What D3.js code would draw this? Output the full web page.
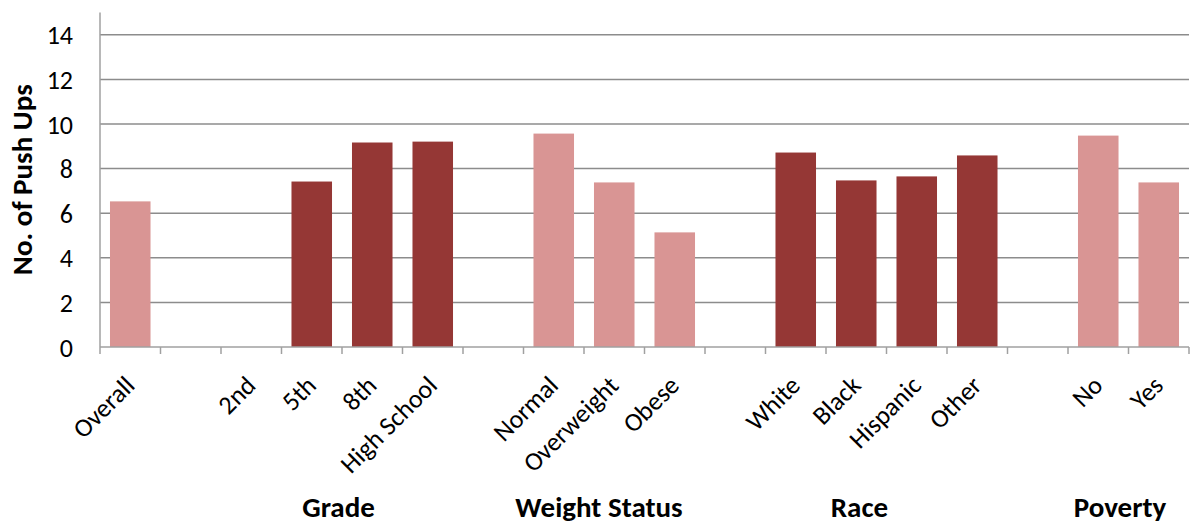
<!DOCTYPE html>
<html>
<head>
<meta charset="utf-8">
<script src="https://cdn.jsdelivr.net/npm/d3@7"></script>
<style>
  html, body { margin: 0; padding: 0; background: #fff; }
  svg { display: block; }
  text { font-family: Carlito, Calibri, "Open Sans", sans-serif; }
</style>
</head>
<body>
<svg id="chart" width="1193" height="525"></svg>
<script>
// ---- data ----
const categories = ["Overall", " 1", "2nd", "5th", "8th", "High School", " 2",
  "Normal", "Overweight", "Obese", " 3", "White", "Black", "Hispanic", "Other", " 4", "No", "Yes"];
const values = [6.53, null, null, 7.42, 9.17, 9.21, null,
  9.57, 7.38, 5.14, null, 8.72, 7.47, 7.65, 8.59, null, 9.48, 7.38];
const shades = ["light", null, null, "dark", "dark", "dark", null,
  "light", "light", "light", null, "dark", "dark", "dark", "dark", null, "light", "light"];
const groupNames = ["Grade", "Weight Status", "Race", "Poverty"];
const yTicks = [0, 2, 4, 6, 8, 10, 12, 14];
const yLabel = "No. of Push Ups";

// ---- layout ----
const svg = d3.select("#chart");
const L = 100, R = 1189, T = 12.5, B = 347;
const colors = { light: "#d99594", dark: "#953735" };

const x = d3.scaleBand().domain(categories).range([L, R]).paddingInner(0.33).paddingOuter(0.165);
const xb = d3.scaleBand().domain(categories).range([L, R]);
const y = d3.scaleLinear().domain([0, 15]).range([B, T]);

// gridlines
svg.append("g").selectAll("line").data(yTicks.filter(d => d > 0)).join("line")
  .attr("x1", L).attr("x2", R)
  .attr("y1", d => y(d)).attr("y2", d => y(d))
  .attr("stroke", "#8c8c8c").attr("stroke-width", 1.5);

// bars
const data = categories.map((c, i) => ({ c, v: values[i], s: shades[i] })).filter(d => d.v != null);
svg.append("g").selectAll("rect").data(data).join("rect")
  .attr("x", d => x(d.c)).attr("width", x.bandwidth())
  .attr("y", d => y(d.v)).attr("height", d => y(0) - y(d.v))
  .attr("fill", d => colors[d.s]);

// y axis
const yAxis = svg.append("g").attr("transform", `translate(${L},0)`)
  .call(d3.axisLeft(y).tickValues(yTicks).tickSize(0).tickPadding(27));
yAxis.select(".domain").attr("stroke", "#a0a0a0").attr("stroke-width", 1.5)
  .attr("d", `M0,${T}V${B}`);
yAxis.selectAll("text").attr("font-size", 26).attr("fill", "#000").attr("dy", "0.35em");

// x axis line and ticks
const xg = svg.append("g");
xg.append("line").attr("x1", L).attr("x2", R).attr("y1", B).attr("y2", B)
  .attr("stroke", "#a0a0a0").attr("stroke-width", 1.5);
const tickPos = categories.map(c => xb(c)).concat([R]);
xg.selectAll("line.tk").data(tickPos).join("line").attr("class", "tk")
  .attr("x1", d => d).attr("x2", d => d).attr("y1", B).attr("y2", B + 7)
  .attr("stroke", "#a0a0a0").attr("stroke-width", 1.5);

// x labels
xg.selectAll("text.cat").data(categories.filter(c => !/^ \d$/.test(c)))
  .join("text").attr("class", "cat")
  .attr("transform", c => `translate(${xb(c) + xb.bandwidth() / 2 + 6},${B + 40}) rotate(-45)`)
  .attr("text-anchor", "end").attr("font-size", 26).attr("fill", "#000")
  .text(c => c);

// group labels
const groupStart = xb("High School") - 64;
const groupStep = 260.5;
svg.selectAll("text.grp").data(groupNames).join("text").attr("class", "grp")
  .attr("x", (d, i) => groupStart + i * groupStep)
  .attr("y", 517).attr("text-anchor", "middle")
  .attr("font-size", 29).attr("font-weight", "bold").attr("fill", "#000")
  .text(d => d);

// y label
svg.append("text").attr("transform", `translate(32,${(T + B) / 2}) rotate(-90)`)
  .attr("text-anchor", "middle").attr("font-size", 29).attr("font-weight", "bold")
  .text(yLabel);
</script>
</body>
</html>
